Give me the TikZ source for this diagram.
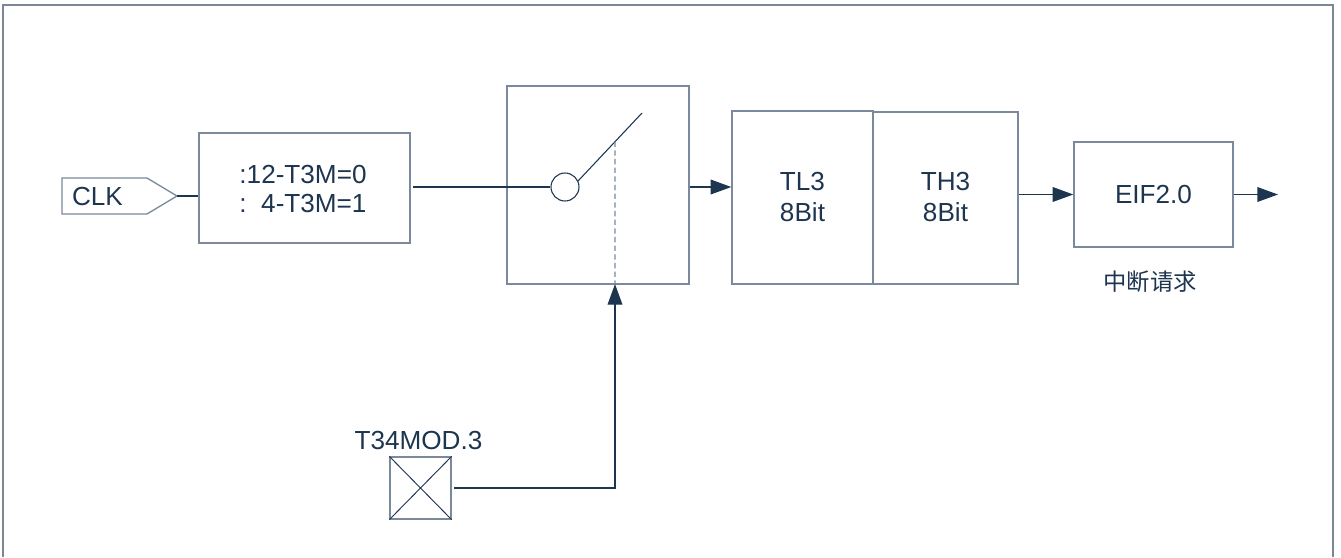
\documentclass[tikz,border=0pt]{standalone}
\usepackage{fontspec}
\setmainfont{Liberation Sans}
\newfontfamily\cjk{Noto Sans CJK SC}
\usetikzlibrary{arrows.meta,calc}
\definecolor{ink}{HTML}{1E3550}
\definecolor{boxc}{HTML}{7A8A9C}
\definecolor{framec}{HTML}{7C8796}
\begin{document}
\begin{tikzpicture}[x=0.75pt,y=-0.75pt,
  blk/.style={draw=boxc,line width=1pt,inner sep=0pt,text=ink},
  lbl/.style={text=ink,font=\fontsize{19.6}{23}\selectfont,inner sep=0pt},
  wire/.style={draw=ink,line width=1pt},
  arr/.style={wire,-{Triangle[length=15.5pt,width=11pt]}}]
\useasboundingbox (0,0) rectangle (1341,557);
% frame
\draw[framec,line width=1.2pt] (3,557) -- (3,5) -- (1333,5) -- (1333,557);
% CLK input
\draw[boxc,line width=1pt] (62,178) -- (147,178) -- (177,196) coordinate (clkout) -- (147,214) -- (62,214) -- cycle;
\node[lbl] (clk) at (97.5,196) {CLK};
% divider
\node[blk,minimum width=211*0.75pt,minimum height=110*0.75pt] (div) at (304.5,188) {};
\node[lbl,align=left] (divt) at (303,189) {:12-T3M=0\\[-2pt]:\ \ 4-T3M=1};
\draw[wire] (clkout) -- (div.west |- clkout);
% switch box
\node[blk,minimum width=182*0.75pt,minimum height=198*0.75pt] (sw) at (598,185) {};
\node[draw=ink,line width=0.8pt,circle,minimum size=28*0.75pt,inner sep=0pt] (cir) at (565,187) {};
\coordinate (armend) at (642,113);
\draw[ink,line width=0.8pt] (cir.25) -- (armend);
\coordinate (armmid) at ($(cir.25)!0.578!(armend)$);
\coordinate (swin) at (615,284);
\draw[boxc,line width=1pt,dashed,dash pattern=on 4pt off 2.5pt] (armmid) -- (swin);
\draw[wire] ([xshift=2pt]div.east |- cir) -- (cir.west);
% counters
\node[blk,minimum width=141*0.75pt,minimum height=173*0.75pt] (tl) at (802.5,197.5) {};
\node[blk,minimum width=145*0.75pt,minimum height=172*0.75pt] (th) at (945.5,198) {};
\node[lbl,align=center] (tlt) at (802.5,197) {TL3\\[0pt]8Bit};
\node[lbl,align=center] (tht) at (945.5,197) {TH3\\[0pt]8Bit};
\draw[arr] (sw.east |- cir) -- (tl.west |- cir);
% EIF
\node[blk,minimum width=159*0.75pt,minimum height=105*0.75pt] (eif) at (1153.5,194.5) {};
\node[lbl] (eift) at (1153.5,195) {EIF2.0};
\draw[arr] (th.east |- eif) -- (eif.west);
\coordinate (out) at (1278,194.5);
\draw[arr] (eif.east) -- (out);
\node[text=ink,inner sep=0pt,font=\cjk\fontsize{17.5}{21}\selectfont] (irq) at (1150,282) {中断请求};
% T34MOD.3
\node[blk,minimum width=61*0.75pt,minimum height=62*0.75pt] (xb) at (420.5,488) {};
\draw[ink,line width=0.7pt] (xb.north west) -- (xb.south east) (xb.north east) -- (xb.south west);
\node[lbl] (modt) at (418.5,440) {T34MOD.3};
\coordinate (bend) at (615,488);
\draw[arr] ([xshift=2pt]xb.east) -- (bend) -- (swin);
\end{tikzpicture}
\end{document}
